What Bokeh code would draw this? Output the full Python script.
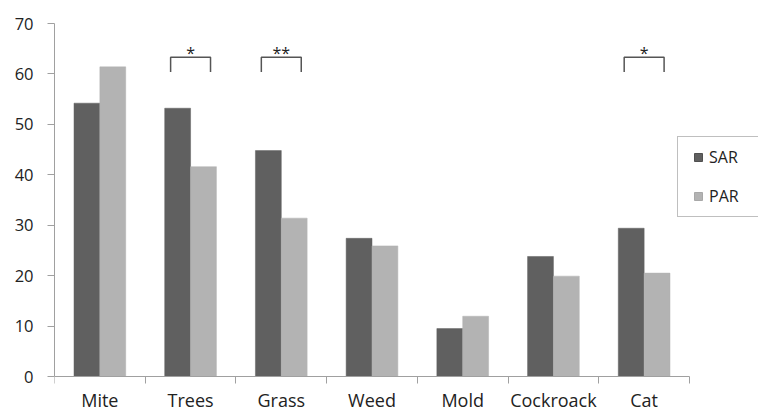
import numpy as np
from bokeh.plotting import figure
from bokeh.models import (ColumnDataSource, Range1d, FixedTicker, Legend,
                          LegendItem)
from bokeh.core.properties import value
from bokeh.embed import file_html
from bokeh.resources import INLINE

# ---- data ----
categories = ["Mite", "Trees", "Grass", "Weed", "Mold", "Cockroack", "Cat"]
sar = [54.2, 53.2, 44.8, 27.4, 9.5, 23.8, 29.4]
par = [61.4, 41.6, 31.4, 25.9, 11.95, 19.9, 20.5]
y_ticks = [0, 10, 20, 30, 40, 50, 60, 70]
sig_categories = ["Trees", "Grass", "Cat"]
sig_marks = ["*", "**", "*"]

# ---- layout / styling constants ----
W, H = 758, 412
LEFT, TOP = 54, 23           # frame left / top (px)
AXIS_X_END_PX = 689          # where the category axis ends (px)
ZERO_PX = 376                # where y=0 lies (px)
Y_MAX = 70
FONT = "Open Sans"
DARK = "#606060"
LIGHT = "#b3b3b3"
AXIS = "#a0a0a0"
TEXT = "#222222"
BAR_W = 0.285
BR_HALF = 0.22
BR_TOP = 63.3
BR_LEG = 2.9

n = len(categories)
idx = np.arange(n)
centers = idx + 0.5
src = ColumnDataSource(dict(
    cat=categories, center=centers,
    x_sar=centers - BAR_W / 2, x_par=centers + BAR_W / 2,
    sar=sar, par=par))

# frame spans to the right and bottom edges so the legend and the
# category labels are not clipped; axes are bounded to the data area
px_per_unit_y = (ZERO_PX - TOP) / Y_MAX
y_start = -(H - ZERO_PX) / px_per_unit_y
x_end = n * (W - LEFT) / (AXIS_X_END_PX - LEFT)

p = figure(width=W, height=H, output_backend="svg", toolbar_location=None,
           x_range=Range1d(0, x_end), y_range=Range1d(y_start, Y_MAX),
           min_border_left=LEFT, min_border_right=0, min_border_top=TOP,
           min_border_bottom=0)
p.outline_line_color = None
p.grid.visible = False
p.background_fill_color = "white"
p.border_fill_color = "white"

p.vbar(x="x_sar", top="sar", width=BAR_W, source=src,
       fill_color=DARK, line_color=DARK, line_width=0.5)
p.vbar(x="x_par", top="par", width=BAR_W, source=src,
       fill_color=LIGHT, line_color=LIGHT, line_width=0.5)

# y axis
ya = p.yaxis[0]
ya.bounds = (0, Y_MAX)
ya.ticker = FixedTicker(ticks=y_ticks, minor_ticks=[])
ya.axis_line_color = AXIS
ya.major_tick_line_color = AXIS
ya.major_tick_in = 0
ya.major_tick_out = 7
ya.minor_tick_line_color = None
ya.major_label_standoff = 14
ya.major_label_text_font = FONT
ya.major_label_text_font_size = "16.5px"
ya.major_label_text_color = TEXT

# x axis: placed at y=0, labels at category centres, ticks at boundaries
xa = p.xaxis[0]
xa.fixed_location = 0
xa.bounds = (0, n)
xa.ticker = FixedTicker(ticks=[float(c) for c in centers],
                        minor_ticks=list(range(n + 1)))
xa.major_label_overrides = {float(c): lab for c, lab in zip(centers, categories)}
xa.axis_line_color = AXIS
xa.major_tick_line_color = None
xa.major_tick_in = 0
xa.major_tick_out = 0
xa.minor_tick_line_color = AXIS
xa.minor_tick_in = 0
xa.minor_tick_out = 7
xa.major_label_standoff = 4
xa.major_label_text_font = FONT
xa.major_label_text_font_size = "18px"
xa.major_label_text_color = TEXT

# significance brackets
sig_c = [categories.index(c) + 0.5 for c in sig_categories]
bxs = [[c - BR_HALF, c - BR_HALF, c + BR_HALF, c + BR_HALF] for c in sig_c]
bys = [[BR_TOP - BR_LEG, BR_TOP, BR_TOP, BR_TOP - BR_LEG] for _ in sig_c]
p.multi_line(xs=bxs, ys=bys, line_color="#555555", line_width=1.5)
p.text(x=sig_c, y=[BR_TOP] * len(sig_c), text=sig_marks,
       text_align="center", text_baseline="alphabetic", y_offset=-4,
       text_font=value(FONT), text_font_size="16px", text_color=TEXT)

# legend (square markers as legend glyphs; the point itself is not drawn)
r_sar = p.scatter(x=[np.nan], y=[np.nan], marker="square", size=8,
                  fill_color=DARK, line_color="#505050")
r_par = p.scatter(x=[np.nan], y=[np.nan], marker="square", size=8,
                  fill_color=LIGHT, line_color="#a8a8a8")
legend = Legend(items=[LegendItem(label="SAR", renderers=[r_sar]),
                       LegendItem(label="PAR", renderers=[r_par])],
                location=(623, 195), orientation="vertical",
                padding=9, spacing=17, margin=0,
                glyph_width=22, glyph_height=20, label_standoff=0,
                label_width=50,
                label_text_font=FONT, label_text_font_size="16px",
                label_text_color=TEXT,
                border_line_color="#808080", border_line_width=1,
                background_fill_color="white", background_fill_alpha=1)
p.add_layout(legend)

open("out.html", "w").write(file_html(p, INLINE))
